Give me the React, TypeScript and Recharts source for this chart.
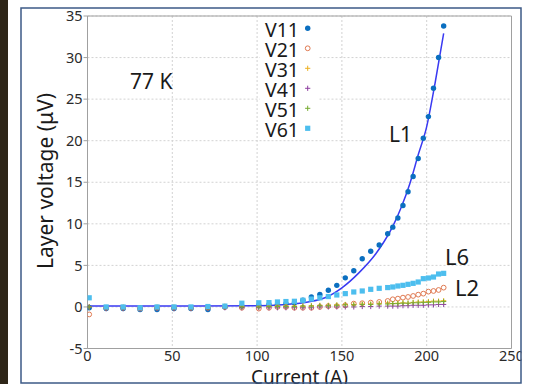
import React from "react";
import {
  ComposedChart,
  Scatter,
  Line,
  XAxis,
  YAxis,
  CartesianGrid,
  ReferenceLine,
} from "recharts";

const current = [1, 11, 21, 31, 41, 51, 61, 71, 81, 91, 101, 107, 112, 117, 122, 127, 132, 137, 142, 147, 152, 157, 162, 167, 172, 177, 180, 183, 186, 189, 192, 195, 198, 201, 204, 207, 210];

const v11 = [-0.1, -0.2, -0.2, -0.3, -0.3, -0.2, -0.2, -0.3, 0.0, 0.1, 0.2, 0.3, 0.3, 0.4, 0.5, 0.8, 1.2, 1.5, 2.0, 2.6, 3.5, 4.35, 5.8, 6.7, 7.45, 8.8, 9.6, 10.7, 12.2, 13.85, 15.7, 17.85, 20.3, 22.9, 26.3, 30.0, 33.8];
const v21 = [-0.9, -0.1, -0.1, -0.2, -0.1, -0.1, -0.1, -0.1, 0.0, -0.1, -0.2, -0.1, 0.0, 0.0, -0.1, -0.1, -0.1, 0.0, 0.1, 0.1, 0.2, 0.4, 0.45, 0.52, 0.6, 0.72, 0.92, 1.0, 1.12, 1.2, 1.32, 1.48, 1.6, 1.84, 1.92, 2.04, 2.32];
const v31 = [0.0, -0.1, 0.0, -0.1, 0.0, 0.0, -0.1, 0.0, 0.1, 0.1, 0.1, 0.1, 0.1, 0.1, 0.1, 0.1, 0.15, 0.2, 0.2, 0.25, 0.3, 0.3, 0.35, 0.35, 0.4, 0.45, 0.4, 0.45, 0.5, 0.45, 0.55, 0.6, 0.6, 0.65, 0.7, 0.7, 0.75];
const v41 = [0.0, -0.2, -0.2, -0.2, -0.2, -0.2, -0.2, -0.2, -0.1, -0.1, -0.1, -0.1, -0.1, -0.1, -0.1, -0.1, -0.1, 0.0, 0.0, 0.0, 0.0, 0.0, 0.05, 0.05, 0.1, 0.1, 0.1, 0.1, 0.15, 0.15, 0.2, 0.2, 0.2, 0.25, 0.25, 0.3, 0.3];
const v51 = [0.0, -0.1, -0.1, -0.1, -0.1, -0.1, -0.1, -0.1, 0.0, 0.0, 0.0, 0.05, 0.05, 0.05, 0.05, 0.1, 0.1, 0.15, 0.15, 0.2, 0.25, 0.25, 0.3, 0.3, 0.35, 0.35, 0.4, 0.4, 0.45, 0.45, 0.5, 0.5, 0.55, 0.55, 0.6, 0.6, 0.65];
const v61 = [1.1, 0.0, 0.0, -0.1, 0.0, 0.0, 0.0, 0.05, 0.1, 0.45, 0.5, 0.52, 0.6, 0.65, 0.68, 0.8, 0.95, 1.1, 1.25, 1.44, 1.6, 1.8, 1.92, 2.12, 2.24, 2.33, 2.4, 2.52, 2.6, 2.72, 2.84, 3.0, 3.4, 3.48, 3.6, 3.96, 4.04];

const fitCurrent = [0, 50, 100, 110, 120, 130, 140, 150, 160, 170, 175, 180, 185, 190, 195, 200, 205, 210];
const fitVoltage = [0.1, 0.1, 0.15, 0.2, 0.35, 0.6, 1.1, 2.3, 4.1, 6.4, 7.9, 9.7, 12.0, 14.8, 18.3, 21.7, 27.0, 32.9];

const xTicks = [0, 50, 100, 150, 200, 250];
const yTicks = [-5, 0, 5, 10, 15, 20, 25, 30, 35];

const seriesNames = ["V11", "V21", "V31", "V41", "V51", "V61"];
const colors = ["#0B6FC0", "#E07A52", "#EDB120", "#8E3FA0", "#77AC30", "#4DBEEE"];

const toPts = (vals: number[]) => current.map((c, i) => ({ x: c, y: vals[i] }));
const fitData = fitCurrent.map((c, i) => ({ x: c, y: fitVoltage[i] }));

const FONT = "'Noto Sans', 'Open Sans', sans-serif";

const markerFor = (idx: number, cx: number, cy: number, key?: string | number) => {
  const col = colors[idx];
  if (idx === 0) return <circle key={key} cx={cx} cy={cy} r={2.7} fill={col} />;
  if (idx === 1) return <circle key={key} cx={cx} cy={cy} r={2.4} fill="none" stroke={col} strokeWidth={1} />;
  if (idx === 5) return <rect key={key} x={cx - 2.6} y={cy - 2.6} width={5.2} height={5.2} fill={col} />;
  return (
    <path key={key} d={`M${cx - 2.6},${cy}H${cx + 2.6}M${cx},${cy - 2.6}V${cy + 2.6}`} stroke={col} strokeWidth={1} fill="none" />
  );
};

const makeShape = (idx: number) => (props: any) => {
  const { cx, cy } = props;
  if (cx == null || cy == null) return <g />;
  return markerFor(idx, cx, cy);
};

const allSeries = [v11, v21, v31, v41, v51, v61];

export default function App() {
  return (
    <div
      style={{
        position: "absolute",
        left: 0,
        top: 0,
        width: 535,
        height: 384,
        background: "#fff",
        overflow: "hidden",
        fontFamily: FONT,
      }}
    >
      <ComposedChart
        width={535}
        height={384}
        margin={{ top: 16, right: 23.5, bottom: 5.5, left: 27.5 }}
        style={{ fontFamily: FONT }}
      >
        <CartesianGrid stroke="#d2d2d2" strokeDasharray="2 2" />
        <XAxis
          type="number"
          dataKey="x"
          domain={[0, 250]}
          ticks={xTicks}
          allowDataOverflow
          height={30}
          tickSize={0}
          tickMargin={2}
          axisLine={{ stroke: "#a0a0a0" }}
          tick={{ fill: "#2a2a2a", fontSize: 14.5 }}
          interval={0}
        />
        <YAxis
          type="number"
          dataKey="y"
          domain={[-5, 35]}
          ticks={yTicks}
          allowDataOverflow
          width={60}
          tickSize={4}
          tickMargin={1}
          axisLine={{ stroke: "#a0a0a0" }}
          tickLine={{ stroke: "#a0a0a0" }}
          tick={{ fill: "#2a2a2a", fontSize: 14.5 }}
          interval={0}
        />
        <ReferenceLine y={35} stroke="#a0a0a0" ifOverflow="extendDomain" />
        <ReferenceLine x={250} stroke="#a0a0a0" ifOverflow="extendDomain" />
        {allSeries.map((vals, i) => (
          <Scatter
            key={seriesNames[i]}
            name={seriesNames[i]}
            data={toPts(vals)}
            dataKey="y"
            shape={makeShape(i)}
            isAnimationActive={false}
          />
        ))}
        <Line
          data={fitData}
          dataKey="y"
          type="monotone"
          dot={false}
          stroke="#3A3AF2"
          strokeWidth={1.5}
          isAnimationActive={false}
        />
      </ComposedChart>
      <svg
        width={535}
        height={384}
        style={{ position: "absolute", left: 0, top: 0, pointerEvents: "none", fontFamily: FONT }}
      >
        <rect x={0} y={0} width={8} height={384} fill="#2e2618" />
        <rect x={260} y={17} width={58} height={122} fill="#fff" />
        {seriesNames.map((n, i) => (
          <g key={n}>
            <text x={265} y={36.5 + i * 20} fontSize={19.5} fill="#1a1a1a">
              {n}
            </text>
            {markerFor(i, 307.7, 28.3 + i * 20)}
          </g>
        ))}
        <text x={130} y={89} fontSize={21} fill="#1a1a1a">77 K</text>
        <text x={389} y={142} fontSize={21} fill="#1a1a1a">L1</text>
        <text x={445} y={265} fontSize={22} fill="#1a1a1a">L6</text>
        <text x={455} y={296} fontSize={22} fill="#1a1a1a">L2</text>
        <text x={299.5} y={384} fontSize={19} fill="#1a1a1a" textAnchor="middle">Current (A)</text>
        <text
          x={0}
          y={0}
          fontSize={21}
          fill="#1a1a1a"
          textAnchor="middle"
          transform="translate(52.5,181) rotate(-90)"
        >
          Layer voltage (μV)
        </text>
        <rect x={521.5} y={0} width={14} height={384} fill="#fff" />
        <rect x={21} y={8} width={500} height={375} fill="none" stroke="#3d5a86" strokeWidth={1.5} />
      </svg>
    </div>
  );
}
